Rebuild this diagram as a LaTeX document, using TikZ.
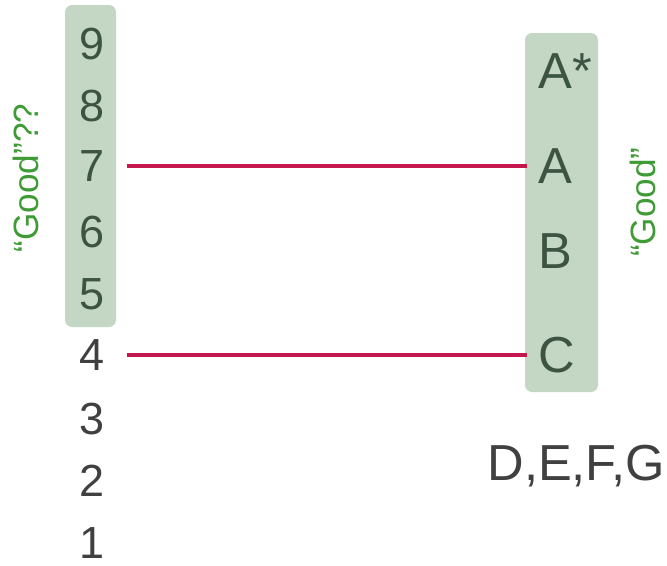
\documentclass[tikz,border=0pt]{standalone}
\usepackage{fontspec}
\setmainfont{Liberation Sans}
\definecolor{boxgreen}{HTML}{C4D6C4}
\definecolor{ingreen}{HTML}{3D5443}
\definecolor{outgray}{HTML}{404040}
\definecolor{linkred}{HTML}{C4174E}
\definecolor{goodgreen}{HTML}{3E9B36}
\tikzset{
  lbl/.style={font=\fontsize{32}{32}\selectfont, inner sep=0pt},
  biglbl/.style={font=\fontsize{36}{36}\selectfont, inner sep=0pt},
  inbox/.style={text=ingreen},
  outbox/.style={text=outgray},
  gbox/.style={fill=boxgreen, rounded corners=5pt},
  link/.style={draw=linkred, line width=2.8pt},
  good/.style={font=\fontsize{25}{25}\selectfont, text=goodgreen, rotate=90, inner sep=0pt}
}
\begin{document}
\begin{tikzpicture}[x=0.025cm, y=-0.025cm]
    \useasboundingbox (0,0) rectangle (667,566);
    % shaded columns
    \path[gbox] (65,5) rectangle (116,327);
    \path[gbox] (525,33) rectangle (598,392);
    % left scale
    \node[lbl, inbox] (n9) at (92,44) {9};
    \node[lbl, inbox] (n8) at (92,106) {8};
    \node[lbl, inbox] (n7) at (92,166) {7};
    \node[lbl, inbox] (n6) at (92,232) {6};
    \node[lbl, inbox] (n5) at (92,294) {5};
    \node[lbl, outbox] (n4) at (92,355) {4};
    \node[lbl, outbox] (n3) at (92,419) {3};
    \node[lbl, outbox] (n2) at (92,481) {2};
    \node[lbl, outbox] (n1) at (92,543) {1};
    % right column
    \node[biglbl, inbox, anchor=west] (las) at (538,71) {A*};
    \node[biglbl, inbox, anchor=west] (la) at (538,166) {A};
    \node[biglbl, inbox, anchor=west] (lb) at (538,251) {B};
    \node[biglbl, inbox, anchor=west] (lc) at (538,355) {C};
    \node[biglbl, outbox, anchor=east] (rest) at (665,466) {D,E,F,G};
    % labels
    \node[good] (goodl) at (26,178) {“Good”??};
    \node[good] (goodr) at (643,202) {“Good”};
    % links
    \draw[link, shorten <=15.5pt, shorten >=7.5pt] (n7.east) -- (la.west);
    \draw[link, shorten <=15.5pt, shorten >=7.5pt] (n4.east) -- (lc.west);
\end{tikzpicture}
\end{document}
